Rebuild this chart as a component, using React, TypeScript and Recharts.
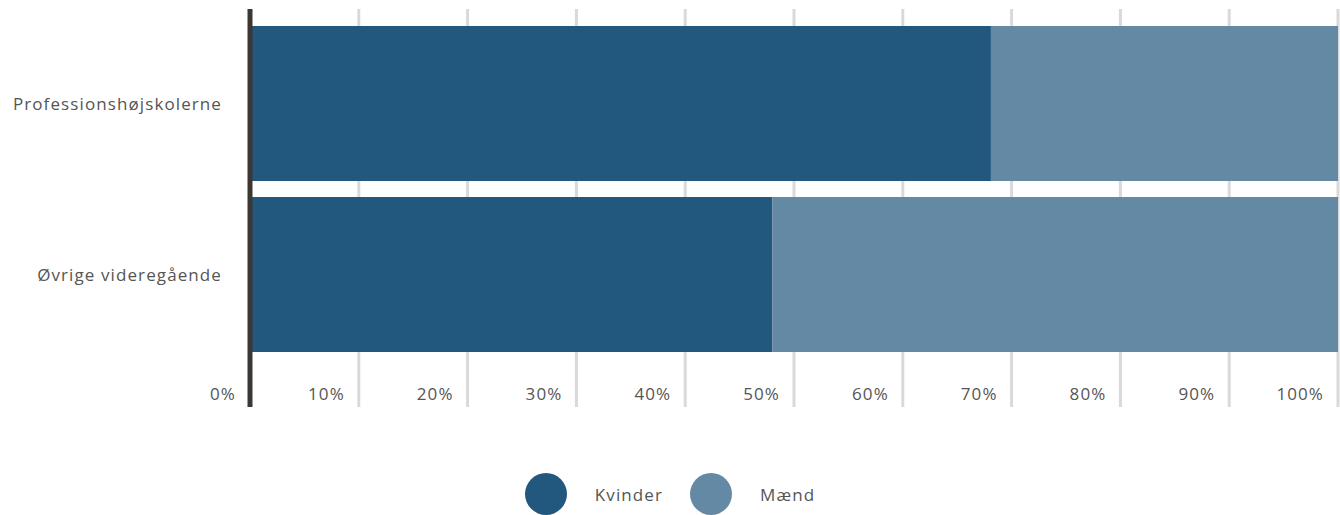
import React from "react";
import { BarChart, Bar, XAxis, YAxis, CartesianGrid, Legend } from "recharts";

const categories = ["Professionshøjskolerne", "Øvrige videregående"];
const kvinder = [68.1, 48.0];
const maend = [31.9, 52.0];
const xTicks = [0, 10, 20, 30, 40, 50, 60, 70, 80, 90, 100];
const seriesNames = ["Kvinder", "Mænd"];
const colors = ["#22577E", "#6389A5"];

const data = categories.map((c, i) => ({ name: c, Kvinder: kvinder[i], Maend: maend[i] }));

const FONT = "'Open Sans', sans-serif";
const TEXT = "#555555";
const LS = 1.1;

const XTick = (props: any) => {
  const { x, y, payload } = props;
  return (
    <text x={x - 14} y={y - 7} textAnchor="end" fill={TEXT} fontSize={17} fontFamily={FONT} letterSpacing={LS}>
      {`${payload.value}%`}
    </text>
  );
};

const YTick = (props: any) => {
  const { x, y, payload } = props;
  return (
    <text x={x} y={y} dy={6} textAnchor="end" fill={TEXT} fontSize={17} fontFamily={FONT} letterSpacing={LS}>
      {payload.value}
    </text>
  );
};

const LegendContent = () => (
  <div style={{ display: "flex", justifyContent: "center", alignItems: "center", height: 42 }}>
    {seriesNames.map((n, i) => (
      <div key={n} style={{ display: "flex", alignItems: "center", marginLeft: i === 0 ? 0 : 27 }}>
        <div style={{ width: 42, height: 42, borderRadius: "50%", background: colors[i] }} />
        <span style={{ marginLeft: 28, fontFamily: FONT, fontSize: 17, color: TEXT, letterSpacing: LS }}>{n}</span>
      </div>
    ))}
  </div>
);

export default function App() {
  return (
    <div style={{ position: "absolute", left: 0, top: 0, width: 1340, height: 515, background: "#fff" }}>
      <BarChart
        width={1340}
        height={515}
        data={data}
        layout="vertical"
        margin={{ top: 9, right: 2, bottom: 65, left: 0 }}
        barSize={155}
      >
        <CartesianGrid horizontal={false} vertical={true} stroke="#d9d9d9" strokeWidth={3} />
        <XAxis
          type="number"
          domain={[0, 100]}
          ticks={xTicks}
          height={1}
          tickSize={0}
          tickMargin={0}
          tickLine={false}
          axisLine={false}
          tick={<XTick />}
          interval={0}
        />
        <Bar dataKey="Kvinder" stackId="a" fill={colors[0]} isAnimationActive={false} />
        <Bar dataKey="Maend" name="Mænd" stackId="a" fill={colors[1]} isAnimationActive={false} />
        <YAxis
          type="category"
          dataKey="name"
          width={250}
          padding={{ top: 9, bottom: 47 }}
          tickSize={0}
          tickMargin={28}
          tickLine={false}
          axisLine={{ stroke: "#3b3834", strokeWidth: 5 }}
          tick={<YTick />}
        />
        <Legend
          verticalAlign="bottom"
          content={<LegendContent />}
          wrapperStyle={{ bottom: 0, left: 0, width: 1340, height: 42 }}
        />
      </BarChart>
    </div>
  );
}
